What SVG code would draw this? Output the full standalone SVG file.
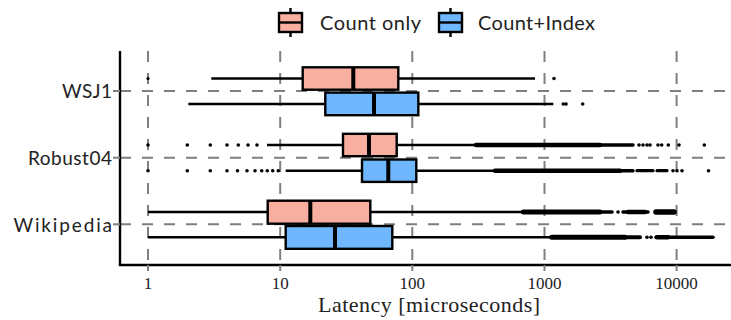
<svg xmlns="http://www.w3.org/2000/svg" width="731" height="320" viewBox="0 0 731 320">
<style>
.grid{stroke:#7f7f7f;stroke-width:2;stroke-dasharray:11 11;fill:none}
.wh{stroke:#000;stroke-width:2.4;fill:none}
.box{stroke:#000;stroke-width:2.4}
.pink{fill:#F9AFA0}
.blue{fill:#6FB7FF}
.med{stroke:#000;stroke-width:4}
.out{fill:#000}
.dense{stroke:#000;stroke-linecap:round;fill:none}
.axis{stroke:#000;stroke-width:2.4;fill:none}
.tick{stroke:#7f7f7f;stroke-width:2}
.ylab{font-family:Lato,"Noto Sans",sans-serif;font-size:19px;fill:#222;text-anchor:end}
.xlab{font-family:"Liberation Serif",serif;font-size:17px;fill:#222;text-anchor:middle}
.title{font-family:"Liberation Serif",serif;font-size:22px;fill:#222;text-anchor:middle}
.leg{font-family:Lato,"Noto Sans",sans-serif;font-size:20px;fill:#222}
</style>
<rect width="731" height="320" fill="#fff"/>
<g id="gridlines">
<line class="grid" x1="120" y1="91" x2="731" y2="91"/>
<line class="grid" x1="120" y1="157.7" x2="731" y2="157.7"/>
<line class="grid" x1="120" y1="224.3" x2="731" y2="224.3"/>
<line class="grid" x1="148" y1="51" x2="148" y2="265"/>
<line class="grid" x1="280.2" y1="51" x2="280.2" y2="265"/>
<line class="grid" x1="412.3" y1="51" x2="412.3" y2="265"/>
<line class="grid" x1="544.5" y1="51" x2="544.5" y2="265"/>
<line class="grid" x1="676.6" y1="51" x2="676.6" y2="265"/>
</g>
<g id="connectors">
<line class="wh" x1="211.3" y1="78.5" x2="535" y2="78.5"/>
<line class="wh" x1="188.3" y1="104" x2="553.3" y2="104"/>
<line class="wh" x1="267" y1="145" x2="476" y2="145"/>
<line class="wh" x1="285.7" y1="170.7" x2="495" y2="170.7"/>
<line class="wh" x1="148" y1="212" x2="523.3" y2="212"/>
<line class="wh" x1="148" y1="237.3" x2="551.7" y2="237.3"/>
</g>
<g id="wsj1-count">
<rect class="box pink" x="302.7" y="67.3" width="95.6" height="22.4"/>
<line class="med" x1="353.3" y1="67.3" x2="353.3" y2="89.7"/>
<circle class="out" cx="148" cy="78.5" r="1.6"/>
<circle class="out" cx="554" cy="78.5" r="1.8"/>
</g>
<g id="wsj1-index">
<rect class="box blue" x="325.3" y="92.6" width="93" height="22.6"/>
<line class="med" x1="374" y1="92.6" x2="374" y2="115.2"/>
<circle class="out" cx="563.3" cy="104" r="1.8"/>
<circle class="out" cx="566" cy="104" r="1.8"/>
<circle class="out" cx="582.7" cy="104" r="1.8"/>
</g>
<g id="robust04-count">
<rect class="box pink" x="343" y="133.8" width="53.7" height="22.4"/>
<line class="med" x1="369" y1="133.8" x2="369" y2="156.2"/>
<circle class="out" cx="148" cy="145" r="1.8"/>
<circle class="out" cx="187.3" cy="145" r="1.8"/>
<circle class="out" cx="210.3" cy="145" r="1.8"/>
<circle class="out" cx="227" cy="145" r="1.8"/>
<circle class="out" cx="238.3" cy="145" r="1.8"/>
<circle class="out" cx="248" cy="145" r="1.8"/>
<circle class="out" cx="257" cy="145" r="1.8"/>
<line class="dense" x1="476" y1="145" x2="600" y2="145" stroke-width="4.5"/>
<line class="dense" x1="600" y1="145" x2="633" y2="145" stroke-width="3.5"/>
<circle class="out" cx="639" cy="145" r="1.8"/>
<circle class="out" cx="643" cy="145" r="1.8"/>
<circle class="out" cx="647" cy="145" r="1.8"/>
<circle class="out" cx="650" cy="145" r="1.8"/>
<circle class="out" cx="658" cy="145" r="1.8"/>
<circle class="out" cx="661.7" cy="145" r="1.8"/>
<circle class="out" cx="668.3" cy="145" r="1.8"/>
<circle class="out" cx="679" cy="145" r="1.8"/>
<circle class="out" cx="704.3" cy="145" r="1.8"/>
</g>
<g id="robust04-index">
<rect class="box blue" x="362" y="159.5" width="54.3" height="22.4"/>
<line class="med" x1="388.3" y1="159.5" x2="388.3" y2="181.9"/>
<circle class="out" cx="148" cy="170.7" r="1.8"/>
<circle class="out" cx="187.3" cy="170.7" r="1.8"/>
<circle class="out" cx="210.3" cy="170.7" r="1.8"/>
<circle class="out" cx="227" cy="170.7" r="1.8"/>
<circle class="out" cx="237.5" cy="170.7" r="1.8"/>
<circle class="out" cx="247" cy="170.7" r="1.8"/>
<circle class="out" cx="255" cy="170.7" r="1.8"/>
<circle class="out" cx="261.7" cy="170.7" r="1.8"/>
<circle class="out" cx="267.3" cy="170.7" r="1.8"/>
<circle class="out" cx="272.7" cy="170.7" r="1.8"/>
<circle class="out" cx="278.3" cy="170.7" r="1.8"/>
<line class="dense" x1="495" y1="170.7" x2="620" y2="170.7" stroke-width="4.5"/>
<line class="dense" x1="620" y1="170.7" x2="633" y2="170.7" stroke-width="3.5"/>
<line class="dense" x1="637" y1="170.7" x2="653" y2="170.7" stroke-width="3.2"/>
<line class="dense" x1="657" y1="170.7" x2="667" y2="170.7" stroke-width="3.2"/>
<circle class="out" cx="673" cy="170.7" r="1.8"/>
<circle class="out" cx="677" cy="170.7" r="1.8"/>
<circle class="out" cx="682" cy="170.7" r="1.8"/>
<circle class="out" cx="708.5" cy="170.7" r="1.8"/>
</g>
<g id="wikipedia-count">
<rect class="box pink" x="267.7" y="200.7" width="102.6" height="23"/>
<line class="med" x1="310.3" y1="200.7" x2="310.3" y2="223.7"/>
<line class="dense" x1="523.3" y1="212" x2="600" y2="212" stroke-width="5"/>
<line class="dense" x1="600" y1="212" x2="612" y2="212" stroke-width="3.5"/>
<circle class="out" cx="618" cy="212" r="1.8"/>
<line class="dense" x1="623" y1="212" x2="648" y2="212" stroke-width="3.5"/>
<line class="dense" x1="628" y1="212" x2="645" y2="212" stroke-width="4.5"/>
<line class="dense" x1="656" y1="212" x2="674" y2="212" stroke-width="5.5"/>
</g>
<g id="wikipedia-index">
<rect class="box blue" x="285.7" y="226" width="106.6" height="22.8"/>
<line class="med" x1="335" y1="226" x2="335" y2="248.8"/>
<line class="dense" x1="551.7" y1="237.3" x2="625" y2="237.3" stroke-width="5"/>
<line class="dense" x1="625" y1="237.3" x2="640" y2="237.3" stroke-width="4"/>
<circle class="out" cx="647" cy="237.3" r="1.8"/>
<circle class="out" cx="651" cy="237.3" r="1.8"/>
<line class="dense" x1="656" y1="237.3" x2="713" y2="237.3" stroke-width="3.5"/>
<line class="dense" x1="657" y1="237.3" x2="668" y2="237.3" stroke-width="4.5"/>
</g>
<g id="axes">
<line class="axis" x1="120" y1="51" x2="120" y2="265"/>
<line class="axis" x1="118.8" y1="265" x2="731" y2="265"/>
<line class="tick" x1="113" y1="91" x2="120" y2="91"/>
<line class="tick" x1="113" y1="157.7" x2="120" y2="157.7"/>
<line class="tick" x1="113" y1="224.3" x2="120" y2="224.3"/>
<line class="tick" x1="148" y1="265" x2="148" y2="271"/>
<line class="tick" x1="280.2" y1="265" x2="280.2" y2="271"/>
<line class="tick" x1="412.3" y1="265" x2="412.3" y2="271"/>
<line class="tick" x1="544.5" y1="265" x2="544.5" y2="271"/>
<line class="tick" x1="676.6" y1="265" x2="676.6" y2="271"/>
<text class="ylab" x="112" y="97.5" textLength="50" lengthAdjust="spacing">WSJ1</text>
<text class="ylab" x="112" y="165" textLength="84" lengthAdjust="spacing">Robust04</text>
<text class="ylab" x="112" y="232" textLength="98.5" lengthAdjust="spacing">Wikipedia</text>
<text class="xlab" x="148" y="289">1</text>
<text class="xlab" x="280.2" y="289">10</text>
<text class="xlab" x="412.3" y="289">100</text>
<text class="xlab" x="544.5" y="289">1000</text>
<text class="xlab" x="676.6" y="289">10000</text>
<text class="title" x="429" y="312" textLength="222" lengthAdjust="spacing">Latency [microseconds]</text>
</g>
<g id="legend-count">
<line class="wh" x1="290.5" y1="8" x2="290.5" y2="37"/>
<rect class="box pink" x="279" y="13" width="23" height="19"/>
<line class="wh" x1="279" y1="22.5" x2="302" y2="22.5"/>
<text class="leg" x="320" y="30" textLength="101" lengthAdjust="spacing">Count only</text>
</g>
<g id="legend-index">
<line class="wh" x1="450.5" y1="8" x2="450.5" y2="37"/>
<rect class="box blue" x="439" y="13" width="23" height="19"/>
<line class="wh" x1="439" y1="22.5" x2="462" y2="22.5"/>
<text class="leg" x="478" y="30" textLength="117" lengthAdjust="spacing">Count+Index</text>
</g>
</svg>
